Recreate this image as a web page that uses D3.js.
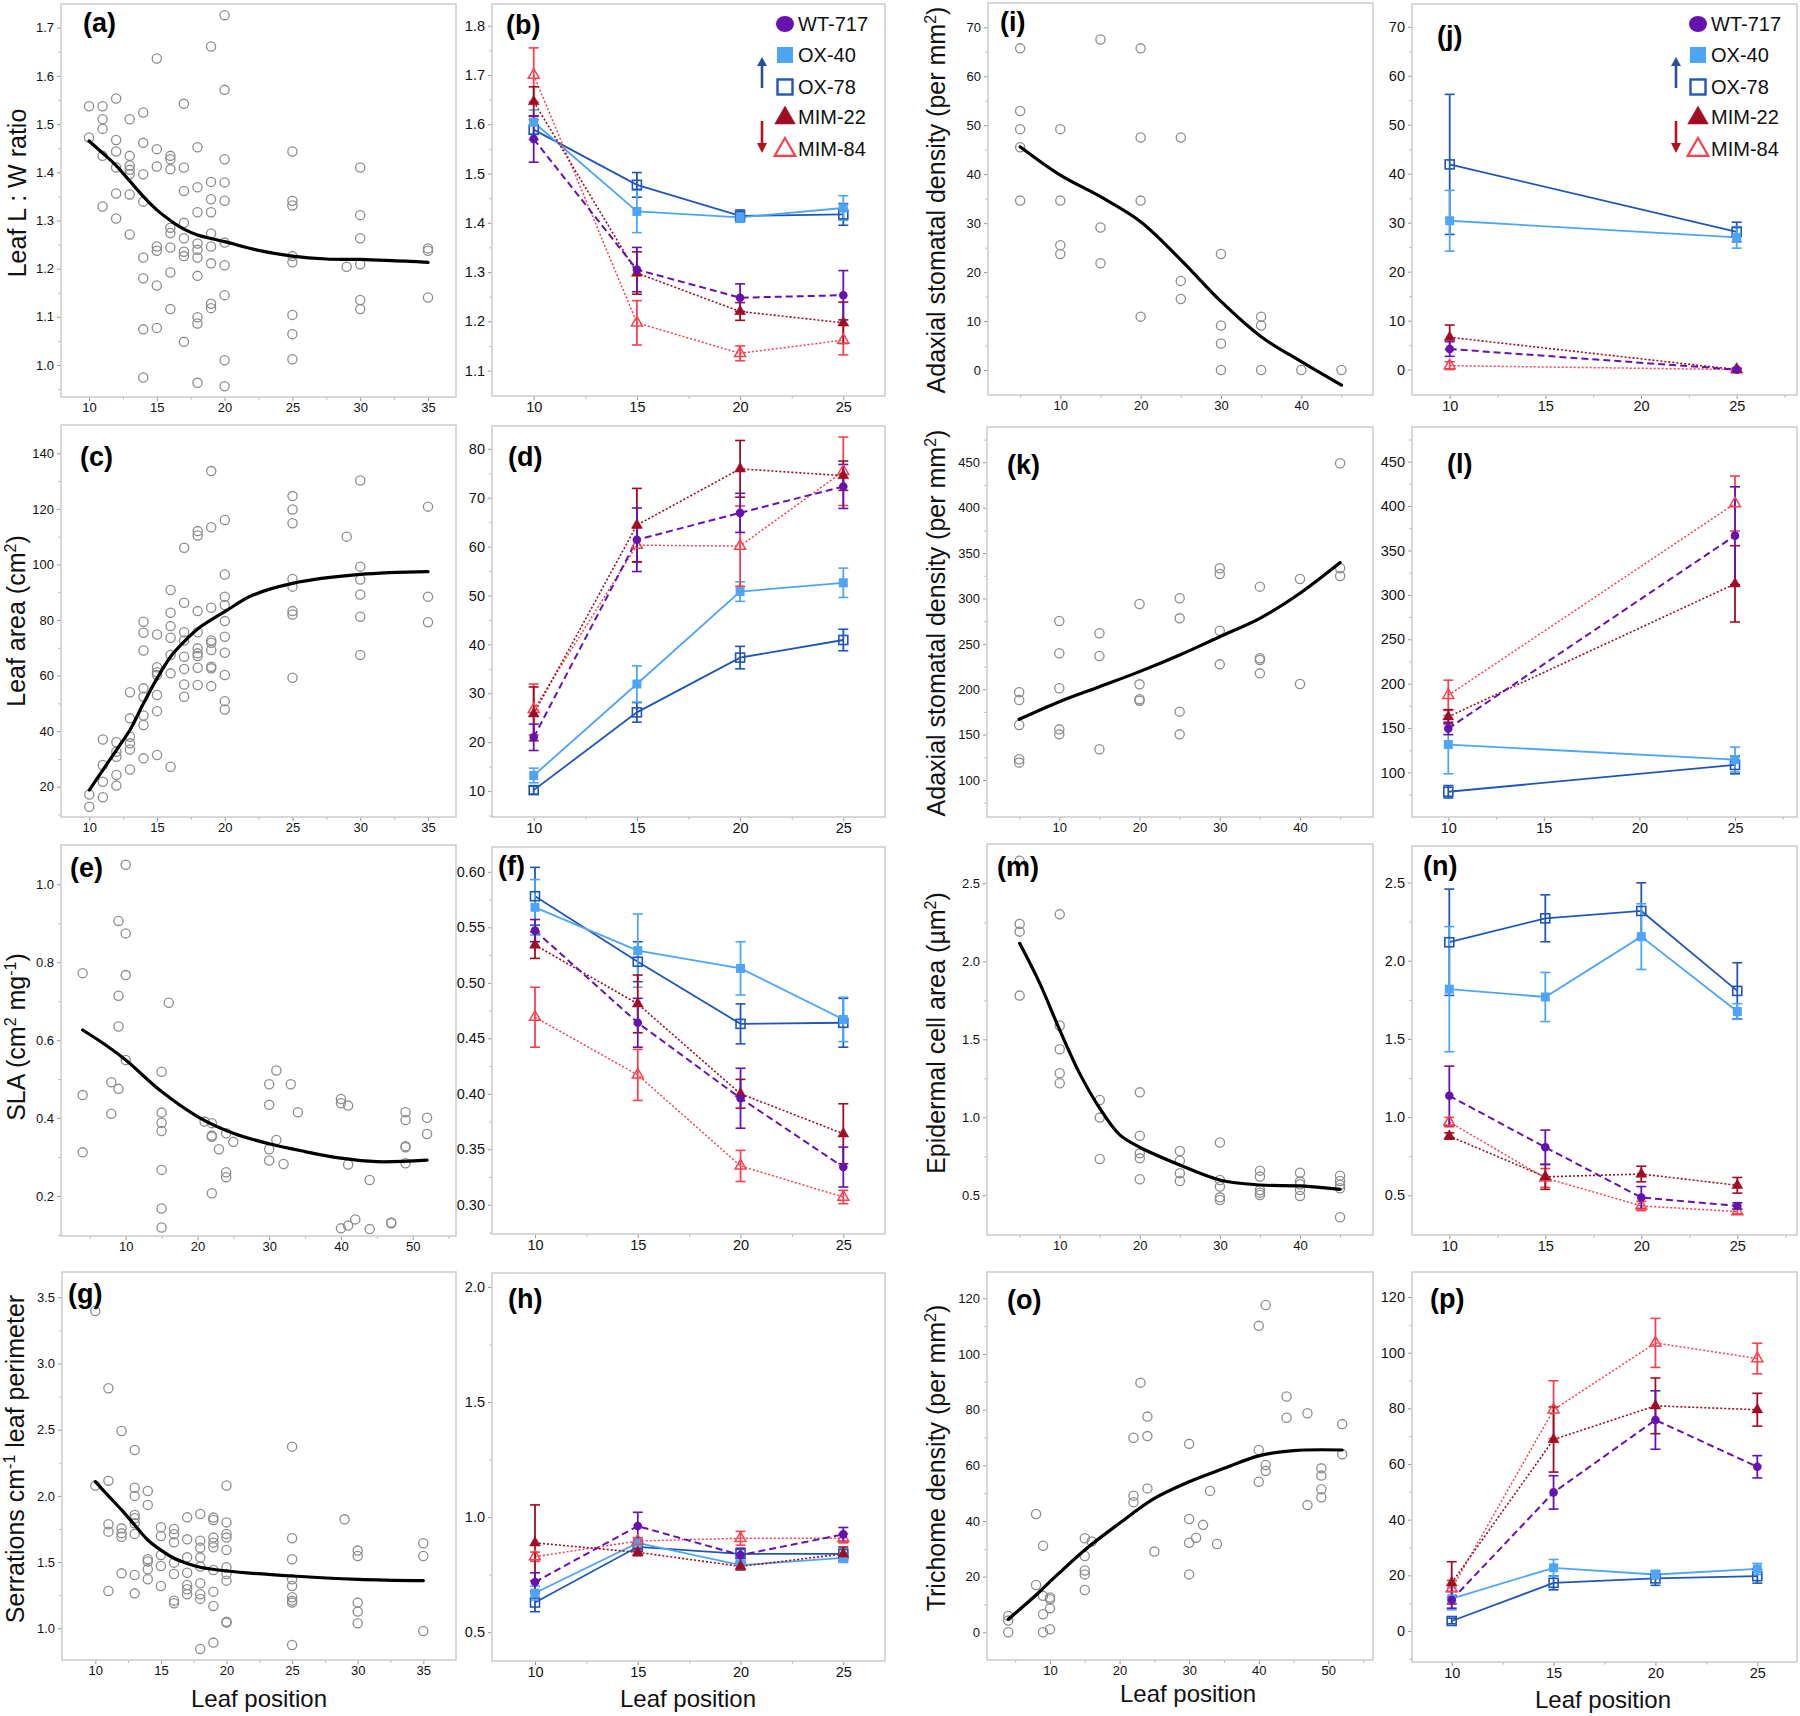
<!DOCTYPE html>
<html><head><meta charset="utf-8">
<script src="https://cdn.jsdelivr.net/npm/d3@7"></script>
<style>
body{margin:0;background:#fff}
svg{display:block}
text{font-family:"Liberation Sans",Arial,Helvetica,sans-serif}
</style>
</head><body>
<svg id="chart" width="1800" height="1716"></svg>
<script>
// ---------------- DATA ----------------
const genotypes = ["WT-717","OX-40","OX-78","MIM-22","MIM-84"];
const leafPos4 = [10,15,20,25];
const leafPos2 = [10,25];

// scatter panels: [leaf position, value]
const aPts = [[10,1.537],[10,1.472],[11,1.537],[11,1.51],[11,1.49],[11,1.434],[11,1.329],
[12,1.553],[12,1.467],[12,1.443],[12,1.41],[12,1.356],[12,1.304],
[13,1.51],[13,1.434],[13,1.414],[13,1.405],[13,1.396],[13,1.354],[13,1.271],
[14,1.524],[14,1.461],[14,1.396],[14,1.339],[14,1.223],[14,1.18],[14,1.074],[14,0.974],
[15,1.636],[15,1.448],[15,1.412],[15,1.246],[15,1.237],[15,1.165],[15,1.077],
[16,1.434],[16,1.427],[16,1.406],[16,1.285],[16,1.274],[16,1.244],[16,1.192],[16,1.116],
[17,1.542],[17,1.41],[17,1.361],[17,1.295],[17,1.263],[17,1.235],[17,1.226],[17,1.048],
[18,1.452],[18,1.369],[18,1.317],[18,1.252],[18,1.239],[18,1.223],[18,1.185],[18,1.099],[18,1.086],[18,0.963],
[19,1.661],[19,1.38],[19,1.344],[19,1.317],[19,1.273],[19,1.246],[19,1.211],[19,1.127],[19,1.118],
[20,1.726],[20,1.571],[20,1.427],[20,1.379],[20,1.341],[20,1.254],[20,1.207],[20,1.145],[20,1.01],[20,0.956],
[25,1.443],[25,1.341],[25,1.331],[25,1.226],[25,1.213],[25,1.104],[25,1.064],[25,1.012],
[29,1.204],[30,1.41],[30,1.311],[30,1.263],[30,1.209],[30,1.135],[30,1.116],
[35,1.242],[35,1.237],[35,1.14]];
const aFit = [[10,1.465],[11,1.44],[12,1.414],[13,1.382],[14,1.35],[15,1.322],[16,1.30],[17,1.282],[18,1.27],[20,1.256],[22.5,1.238],[25,1.226],[27.5,1.22],[30,1.219],[35,1.213]];

const cPts = [[10,17.2],[10,12.8],[11,37.0],[11,27.8],[11,21.8],[11,16.2],
[12,36.0],[12,32.6],[12,30.8],[12,24.2],[12,20.4],
[13,54.0],[13,44.6],[13,38.0],[13,35.6],[13,33.4],[13,26.2],
[14,79.4],[14,75.4],[14,69.0],[14,55.4],[14,52.4],[14,45.6],[14,42.2],[14,30.2],
[15,74.8],[15,63.0],[15,61.2],[15,60.2],[15,53.0],[15,47.2],[15,31.4],
[16,90.8],[16,82.6],[16,77.8],[16,73.6],[16,67.4],[16,60.8],[16,27.2],
[17,106.0],[17,86.2],[17,75.6],[17,72.6],[17,66.8],[17,62.4],[17,56.8],[17,52.4],
[18,112.0],[18,110.4],[18,83.2],[18,75.6],[18,69.8],[18,68.0],[18,67.0],[18,62.8],[18,56.6],
[19,133.6],[19,113.4],[19,84.4],[19,72.6],[19,71.8],[19,69.2],[19,63.2],[19,62.6],[19,56.2],
[20,116.0],[20,96.4],[20,88.4],[20,85.4],[20,79.6],[20,74.0],[20,68.2],[20,60.2],[20,50.8],[20,47.8],
[25,124.6],[25,119.8],[25,114.8],[25,94.8],[25,92.0],[25,83.2],[25,82.0],[25,59.2],
[29,110.0],[30,130.2],[30,99.2],[30,94.6],[30,89.2],[30,81.2],[30,67.4],
[35,120.8],[35,88.4],[35,79.2]];
const cFit = [[10,18.8],[11,26],[12,33.2],[13,40.4],[14,50],[15,59],[16,66.8],[17,72.2],[18,76.8],[20,83],[22,88.8],[25,93.2],[30,96.4],[35,97.4]];

const ePts = [[4,0.772],[4,0.459],[4,0.312],[8,0.492],[8,0.411],
[9,0.906],[9,0.714],[9,0.635],[9,0.475],[10,1.05],[10,0.874],[10,0.767],[10,0.549],
[15,0.519],[15,0.414],[15,0.388],[15,0.367],[15,0.267],[15,0.168],[15,0.119],[16,0.696],
[21,0.391],[22,0.387],[22,0.355],[22,0.352],[22,0.207],[23,0.32],
[24,0.361],[24,0.261],[24,0.248],[25,0.339],
[30,0.487],[30,0.434],[30,0.32],[30,0.291],[31,0.522],[31,0.344],[32,0.282],[33,0.487],[34,0.415],
[40,0.449],[40,0.438],[40,0.117],[41,0.432],[41,0.281],[41,0.124],[42,0.14],
[44,0.241],[44,0.115],[47,0.132],[47,0.13],
[49,0.415],[49,0.395],[49,0.328],[49,0.325],[49,0.284],[52,0.401],[52,0.359]];
const eFit = [[4,0.626],[7,0.59],[10,0.549],[15,0.468],[20,0.404],[25,0.361],[30,0.334],[35,0.314],[40,0.297],[45,0.288],[52,0.292]];

const gPts = [[10,3.397],[10,2.078],[11,2.813],[11,2.115],[11,1.786],[11,1.73],[11,1.282],
[12,2.49],[12,1.755],[12,1.717],[12,1.692],[12,1.415],
[13,2.347],[13,2.062],[13,2.0],[13,1.856],[13,1.831],[13,1.793],[13,1.713],[13,1.403],[13,1.264],
[14,2.037],[14,1.932],[14,1.521],[14,1.504],[14,1.446],[14,1.37],
[15,1.763],[15,1.697],[15,1.554],[15,1.471],[15,1.32],
[16,1.75],[16,1.71],[16,1.649],[16,1.496],[16,1.41],[16,1.209],[16,1.189],
[17,1.838],[17,1.672],[17,1.536],[17,1.42],[17,1.327],[17,1.295],[17,1.257],
[18,1.863],[18,1.662],[18,1.609],[18,1.534],[18,1.466],[18,1.34],[18,1.257],[18,1.222],[18,0.844],
[19,1.836],[19,1.818],[19,1.685],[19,1.647],[19,1.612],[19,1.44],[19,1.277],[19,1.169],[19,0.892],
[20,2.078],[20,1.8],[20,1.713],[20,1.685],[20,1.592],[20,1.461],[20,1.41],[20,1.36],[20,1.05],[20,1.043],
[25,2.372],[25,1.68],[25,1.521],[25,1.37],[25,1.32],[25,1.234],[25,1.209],[25,1.194],[25,0.874],
[29,1.823],[30,1.587],[30,1.546],[30,1.194],[30,1.126],[30,1.038],
[35,1.642],[35,1.546],[35,0.98]];
const gFit = [[10,2.108],[11,2.0],[12,1.894],[13,1.78],[14,1.667],[15,1.59],[16,1.529],[17,1.49],[18,1.461],[20,1.433],[25,1.395],[30,1.37],[35,1.36]];

const iPts = [[5,65.7],[5,52.9],[5,49.2],[5,45.5],[5,34.6],[10,49.2],[10,34.6],[10,25.5],[10,23.7],
[15,67.5],[15,29.1],[15,21.8],[20,65.7],[20,47.5],[20,34.6],[20,10.9],
[25,47.5],[25,18.2],[25,14.5],[30,23.7],[30,9.1],[30,5.4],[30,0],
[35,10.9],[35,9.1],[35,0],[40,0],[45,0]];
const iFit = [[5,45.6],[10,39.8],[15,35.4],[20,30.3],[25,22.5],[30,14.0],[35,6.8],[40,1.7],[45,-3.1]];

const kPts = [[5,196.6],[5,188.2],[5,160.6],[5,122.8],[5,119.1],
[10,275.2],[10,239.6],[10,201.0],[10,155.8],[10,150.3],[15,261.6],[15,236.6],[15,133.8],
[20,293.9],[20,205.4],[20,188.9],[20,187.4],[25,300.2],[25,278.1],[25,175.3],[25,150.3],
[30,333.2],[30,327.0],[30,264.5],[30,227.4],[35,313.0],[35,234.1],[35,232.2],[35,217.5],
[40,321.5],[40,205.8],[45,448.9],[45,333.2],[45,324.8]];
const kFit = [[5,166.9],[10,186.3],[15,202.8],[20,219.4],[25,237.7],[30,257.9],[35,278.1],[40,305.7],[45,339.5]];

const mPts = [[5,2.645],[5,2.239],[5,2.19],[5,1.78],[10,2.301],[10,1.588],[10,1.436],[10,1.282],[10,1.218],
[15,1.111],[15,0.998],[15,0.733],[20,1.16],[20,0.882],[20,0.769],[20,0.737],[20,0.603],
[25,0.784],[25,0.722],[25,0.641],[25,0.592],[30,0.838],[30,0.598],[30,0.556],[30,0.487],[30,0.47],
[35,0.658],[35,0.62],[35,0.534],[35,0.517],[35,0.502],[40,0.645],[40,0.588],[40,0.571],[40,0.534],[40,0.496],
[45,0.626],[45,0.592],[45,0.566],[45,0.545],[45,0.359]];
const mFit = [[5,2.115],[7.5,1.86],[10,1.56],[12.5,1.28],[15,1.058],[17.5,0.887],[20,0.808],[25,0.694],[30,0.598],[35,0.566],[40,0.56],[45,0.538]];

const oPts = [[4,5.9],[4,4.2],[4,0],[8,42.5],[8,17.0],[9,31.1],[9,13.1],[9,6.5],[9,0],
[10,12.5],[10,11.9],[10,8.6],[10,1.1],[15,33.8],[15,27.4],[15,22.2],[15,20.8],[15,15.2],[16,32.6],
[22,69.9],[22,49.1],[22,46.7],[23,89.7],[24,77.5],[24,70.5],[24,51.7],[25,29.0],
[30,67.7],[30,40.7],[30,32.2],[30,20.8],[31,34.0],[32,38.6],[33,50.8],[34,31.7],
[40,110.1],[40,65.5],[40,54.1],[41,117.6],[41,60.1],[41,58.0],[44,84.7],[44,77.1],
[47,78.7],[47,45.7],[49,58.9],[49,56.3],[49,51.4],[49,48.5],[52,74.8],[52,64.0]];
const oFit = [[4,4.7],[8,13.4],[10,18.2],[15,29.6],[20,39.2],[25,48.1],[30,54.1],[35,58.9],[40,63.4],[45,65.3],[52,65.5]];

// line panels: rows in genotype order (WT-717, OX-40, OX-78, MIM-22, MIM-84)
const bMean = [[1.57,1.305,1.248,1.253],[1.604,1.423,1.411,1.43],[1.589,1.477,1.414,1.417],[1.646,1.298,1.22,1.197],[1.70,1.197,1.135,1.162]];
const bErr  = [[0.047,0.045,0.028,0.05],[0.025,0.043,0.01,0.025],[0.02,0.025,0.012,0.022],[0.03,0.043,0.018,0.042],[0.055,0.045,0.015,0.03]];
const dMean = [[21.0,61.4,66.9,72.3],[13.2,31.9,50.8,52.6],[10.2,26.1,37.3,40.9],[25.8,64.4,75.9,74.5],[26.7,60.3,60.1,75.4]];
const dErr  = [[2.7,6.5,4,4.5],[1.5,3.7,2,3],[0.8,2,2.3,2.2],[5.5,7.5,5.8,3],[5.2,3.5,8.2,7]];
const fMean = [[0.547,0.464,0.396,0.334],[0.568,0.529,0.513,0.467],[0.578,0.519,0.463,0.464],[0.534,0.481,0.40,0.364],[0.469,0.417,0.335,0.307]];
const fErr  = [[0.01,0.022,0.027,0.018],[0.025,0.033,0.024,0.02],[0.026,0.018,0.018,0.022],[0.012,0.026,0.013,0.027],[0.027,0.023,0.014,0.006]];
const hMean = [[0.718,0.961,0.835,0.925],[0.67,0.888,0.791,0.823],[0.629,0.871,0.84,0.84],[0.888,0.847,0.786,0.84],[0.828,0.896,0.908,0.908]];
const hErr  = [[0.04,0.06,0.03,0.03],[0.03,0.02,0.02,0.02],[0.04,0.02,0.02,0.02],[0.165,0.015,0.015,0.03],[0.02,0.015,0.03,0.02]];
const jMean = [[4.2,0],[30.4,27.0],[41.9,28.1],[6.6,0],[0.8,0]];
const jErr  = [[1.5,0.2],[6.2,2.2],[14.3,2],[2.5,0.3],[0.8,0.2]];
const lMean = [[149.5,366.7],[131.4,114.5],[78.2,108.4],[162.7,312.4],[186.9,402.9]];
const lErr  = [[7,55],[33,14],[7,10],[8,43],[17,31]];
const nMean = [[1.136,0.807,0.486,0.432],[1.818,1.768,2.154,1.675],[2.118,2.271,2.318,1.807],[0.879,0.618,0.636,0.564],[0.968,0.611,0.432,0.396]];
const nErr  = [[0.19,0.11,0.07,0.02],[0.4,0.157,0.21,0.05],[0.34,0.15,0.18,0.18],[0.02,0.08,0.05,0.05],[0.03,0.06,0.03,0.015]];
const pMean = [[11.2,49.8,75.8,59.0],[11.6,22.7,20.3,22.3],[3.6,17.3,18.9,19.7],[17.3,68.8,80.9,79.5],[15.2,79.5,103.5,97.9]];
const pErr  = [[3,6,10.5,4],[4,3,1.5,2],[1,2.5,2.5,2.5],[7.6,11.7,10,5.9],[3,10.4,8.8,5.5]];

// tick values
const xTicks35 = [10,15,20,25,30,35];
const xTicks50 = [10,20,30,40,50];
const xTicks40 = [10,20,30,40];
const xTicksLine = [10,15,20,25];
const aYTicks = [1.0,1.1,1.2,1.3,1.4,1.5,1.6,1.7];
const cYTicks = [20,40,60,80,100,120,140];
const eYTicks = [0.2,0.4,0.6,0.8,1.0];
const gYTicks = [1.0,1.5,2.0,2.5,3.0,3.5];
const iYTicks = [0,10,20,30,40,50,60,70];
const kYTicks = [100,150,200,250,300,350,400,450];
const mYTicks = [0.5,1.0,1.5,2.0,2.5];
const oYTicks = [0,20,40,60,80,100,120];
const bYTicks = [1.1,1.2,1.3,1.4,1.5,1.6,1.7,1.8];
const dYTicks = [10,20,30,40,50,60,70,80];
const fYTicks = [0.30,0.35,0.40,0.45,0.50,0.55,0.60];
const hYTicks = [0.5,1.0,1.5,2.0];
const jYTicks = [0,10,20,30,40,50,60,70];
const lYTicks = [100,150,200,250,300,350,400,450];
const nYTicks = [0.5,1.0,1.5,2.0,2.5];
const pYTicks = [0,20,40,60,80,100,120];

// ---------------- STYLE / LAYOUT ----------------
const gStyle = [
  {color:"#6612ae", dash:"7,4", width:2.0, sym:"circle", fill:true},
  {color:"#4fa5f5", dash:null,  width:1.8, sym:"square", fill:true},
  {color:"#1f56b7", dash:null,  width:1.8, sym:"square", fill:false},
  {color:"#a10c22", dash:"2,2", width:1.6, sym:"triangle", fill:true},
  {color:"#f5424f", dash:"2,2", width:1.5, sym:"triangle", fill:false}
];
const drawOrder = [2,1,4,3,0];

const panels = [
 {id:"a",pts:aPts,fit:aFit,frame:[61,4,456,397],xa:[10,35,89,428],ya:[1.0,1.7,365,27.7],xt:xTicks35,yt:aYTicks,fmt:".1f",lab:[22,28]},
 {id:"c",pts:cPts,fit:cFit,frame:[61,425,456,817],xa:[10,35,89.3,428],ya:[20,140,786.7,453.3],xt:xTicks35,yt:cYTicks,fmt:"d",lab:[19,41]},
 {id:"e",pts:ePts,fit:eFit,frame:[61,845,456,1236],xa:[10,50,125.7,412.7],ya:[0.2,1.0,1196,884.3],xt:xTicks50,yt:eYTicks,fmt:".1f",lab:[9,32]},
 {id:"g",pts:gPts,fit:gFit,frame:[62,1272,456,1660],xa:[10,35,95.3,423.3],ya:[1.0,3.5,1628.3,1297.3],xt:xTicks35,yt:gYTicks,fmt:".1f",lab:[6,31]},
 {id:"i",pts:iPts,fit:iFit,frame:[988,3,1373,395],xa:[10,40,1060.3,1301.3],ya:[0,70,370,27.3],xt:xTicks40,yt:iYTicks,fmt:"d",lab:[12,28]},
 {id:"k",pts:kPts,fit:kFit,frame:[987,427,1373,817],xa:[10,40,1059.3,1300],ya:[100,450,780,462.3],xt:xTicks40,yt:kYTicks,fmt:"d",lab:[20,47]},
 {id:"m",pts:mPts,fit:mFit,frame:[987,844,1373,1235],xa:[10,40,1059.7,1300],ya:[0.5,2.5,1195.3,883.3],xt:xTicks40,yt:mYTicks,fmt:".1f",lab:[10,32]},
 {id:"o",pts:oPts,fit:oFit,frame:[987,1272,1373,1660],xa:[10,50,1050,1328.3],ya:[0,120,1632.3,1298.3],xt:xTicks50,yt:oYTicks,fmt:"d",lab:[20,37]},
 {id:"b",mean:bMean,err:bErr,xs:leafPos4,frame:[492,4,885,396],xa:[10,25,533.7,843.3],ya:[1.1,1.8,370.6,25.7],xt:xTicksLine,yt:bYTicks,fmt:".1f",lab:[14,30]},
 {id:"d",mean:dMean,err:dErr,xs:leafPos4,frame:[492,426,885,817],xa:[10,25,533.7,843.3],ya:[10,80,791.1,448.8],xt:xTicksLine,yt:dYTicks,fmt:"d",lab:[16,40]},
 {id:"f",mean:fMean,err:fErr,xs:leafPos4,frame:[492,847,885,1234],xa:[10,25,535,843.3],ya:[0.30,0.60,1204.8,871.8],xt:xTicksLine,yt:fYTicks,fmt:".2f",lab:[6,28]},
 {id:"h",mean:hMean,err:hErr,xs:leafPos4,frame:[492,1273,885,1661],xa:[10,25,535,843.3],ya:[0.5,2.0,1632.2,1286.9],xt:xTicksLine,yt:hYTicks,fmt:".1f",lab:[16,35]},
 {id:"j",mean:jMean,err:jErr,xs:leafPos2,frame:[1412,4,1797,395],xa:[10,25,1449.7,1736.7],ya:[0,70,369.6,26.8],xt:xTicksLine,yt:jYTicks,fmt:"d",lab:[25,41]},
 {id:"l",mean:lMean,err:lErr,xs:leafPos2,frame:[1412,427,1797,817],xa:[10,25,1448.3,1735],ya:[100,450,772.4,461.7],xt:xTicksLine,yt:lYTicks,fmt:"d",lab:[35,46]},
 {id:"n",mean:nMean,err:nErr,xs:leafPos4,frame:[1412,846,1797,1235],xa:[10,25,1449.3,1737.3],ya:[0.5,2.5,1195.3,882.5],xt:xTicksLine,yt:nYTicks,fmt:".1f",lab:[11,29]},
 {id:"p",mean:pMean,err:pErr,xs:leafPos4,frame:[1412,1272,1797,1662],xa:[10,25,1451.7,1757.3],ya:[0,120,1631,1297],xt:xTicksLine,yt:pYTicks,fmt:"d",lab:[18,36]}
];

const svg = d3.select("#chart");
svg.append("rect").attr("width",1800).attr("height",1716).attr("fill","#fff");
const defs = svg.append("defs");

function minorTicks(ticks, scale, lo, hi){
  const step = (ticks[1]-ticks[0])/2;
  const out = [];
  for(let v = ticks[0]-step*4; v <= ticks[ticks.length-1]+step*4; v += step){
    const vv = +v.toFixed(6);
    if(ticks.some(t => Math.abs(t-vv) < 1e-9)) continue;
    const px = scale(vv);
    if(px > lo+1 && px < hi-1) out.push(vv);
  }
  return out;
}

function drawPanel(p){
  const [x0,y0,x1,y1] = p.frame;
  const x = d3.scaleLinear().domain([p.xa[0],p.xa[1]]).range([p.xa[2],p.xa[3]]);
  const y = d3.scaleLinear().domain([p.ya[0],p.ya[1]]).range([p.ya[2],p.ya[3]]);
  const g = svg.append("g").attr("class","panel-"+p.id);
  const tickFont = p.pts ? 13 : 14.5;

  defs.append("clipPath").attr("id","clip-"+p.id).append("rect")
    .attr("x",x0).attr("y",y0).attr("width",x1-x0).attr("height",y1-y0);

  const xAx = g.append("g").attr("transform",`translate(0,${y1})`)
    .call(d3.axisBottom(x).tickValues(p.xt).tickSize(4).tickPadding(2).tickFormat(d3.format("d")));
  const yAx = g.append("g").attr("transform",`translate(${x0},0)`)
    .call(d3.axisLeft(y).tickValues(p.yt).tickSize(4).tickPadding(3).tickFormat(d3.format(p.fmt)));
  [xAx,yAx].forEach(ax=>{
    ax.select(".domain").remove();
    ax.selectAll("line").attr("stroke","#999");
    ax.selectAll("text").attr("font-size",tickFont).attr("fill","#111");
  });
  g.append("g").attr("transform",`translate(0,${y1})`)
    .call(d3.axisBottom(x).tickValues(minorTicks(p.xt,x,x0,x1)).tickSize(2.5).tickFormat(""))
    .call(a=>{a.select(".domain").remove();a.selectAll("line").attr("stroke","#aaa");});
  g.append("g").attr("transform",`translate(${x0},0)`)
    .call(d3.axisLeft(y).tickValues(minorTicks(p.yt,y,y0,y1)).tickSize(2.5).tickFormat(""))
    .call(a=>{a.select(".domain").remove();a.selectAll("line").attr("stroke","#aaa");});

  g.append("rect").attr("x",x0).attr("y",y0).attr("width",x1-x0).attr("height",y1-y0)
    .attr("fill","none").attr("stroke","#cfcfcf").attr("stroke-width",1.6);

  const plot = g.append("g").attr("clip-path",`url(#clip-${p.id})`);

  if(p.pts){
    plot.selectAll("circle.pt").data(p.pts).join("circle").attr("class","pt")
      .attr("cx",d=>x(d[0])).attr("cy",d=>y(d[1])).attr("r",4.6)
      .attr("fill","none").attr("stroke","#8c8c8c").attr("stroke-width",1.3);
    plot.append("path").datum(p.fit)
      .attr("d",d3.line().x(d=>x(d[0])).y(d=>y(d[1])).curve(d3.curveCatmullRom.alpha(0.5)))
      .attr("fill","none").attr("stroke","#000").attr("stroke-width",3.2).attr("stroke-linecap","round");
  } else {
    const line = d3.line().x((d,i)=>x(p.xs[i])).y(d=>y(d));
    drawOrder.forEach(gi=>{
      const st = gStyle[gi];
      plot.append("path").datum(p.mean[gi]).attr("d",line).attr("fill","none")
        .attr("stroke",st.color).attr("stroke-width",st.width)
        .attr("stroke-dasharray",st.dash);
    });
    drawOrder.forEach(gi=>{
      const st = gStyle[gi];
      const gg = plot.append("g");
      p.mean[gi].forEach((m,i)=>{
        const e = p.err[gi][i], cx = x(p.xs[i]);
        gg.append("line").attr("x1",cx).attr("x2",cx).attr("y1",y(m-e)).attr("y2",y(m+e))
          .attr("stroke",st.color).attr("stroke-width",1.8);
        [m-e,m+e].forEach(v=>gg.append("line").attr("x1",cx-5).attr("x2",cx+5).attr("y1",y(v)).attr("y2",y(v))
          .attr("stroke",st.color).attr("stroke-width",1.6));
      });
    });
    drawOrder.forEach(gi=>{
      const st = gStyle[gi];
      const gg = plot.append("g");
      p.mean[gi].forEach((m,i)=>{
        const cx = x(p.xs[i]), cy = y(m);
        if(st.sym==="circle"){
          gg.append("circle").attr("cx",cx).attr("cy",cy).attr("r",4.3).attr("fill",st.color);
        } else if(st.sym==="square"){
          if(st.fill) gg.append("rect").attr("x",cx-4.5).attr("y",cy-4.5).attr("width",9).attr("height",9).attr("fill",st.color);
          else gg.append("rect").attr("x",cx-4.5).attr("y",cy-4.5).attr("width",9).attr("height",9).attr("fill","none").attr("stroke",st.color).attr("stroke-width",1.6);
        } else {
          const path = d3.symbol(d3.symbolTriangle, 52)();
          gg.append("path").attr("d",path).attr("transform",`translate(${cx},${cy})`)
            .attr("fill",st.fill?st.color:"none").attr("stroke",st.color).attr("stroke-width",st.fill?0.5:1.5);
        }
      });
    });
  }

  g.append("text").attr("x",x0+p.lab[0]).attr("y",y0+p.lab[1])
    .attr("font-size",27).attr("font-weight","bold").attr("fill","#000").text(`(${p.id})`);
}

panels.forEach(drawPanel);

// ---------------- LEGENDS ----------------
function drawLegend(cx, tx, arrowX){
  const ys = [24,55,87,117,149];
  genotypes.forEach((name,i)=>{
    const st = gStyle[i], yy = ys[i];
    if(st.sym==="circle"){
      svg.append("ellipse").attr("cx",cx).attr("cy",yy).attr("rx",9).attr("ry",8).attr("fill",st.color);
    } else if(st.sym==="square"){
      if(st.fill) svg.append("rect").attr("x",cx-8).attr("y",yy-8).attr("width",16).attr("height",16).attr("fill",st.color);
      else svg.append("rect").attr("x",cx-7.5).attr("y",yy-7.5).attr("width",15).attr("height",15).attr("fill","none").attr("stroke",st.color).attr("stroke-width",2.4);
    } else {
      svg.append("path").attr("d",d3.symbol(d3.symbolTriangle,185)()).attr("transform",`translate(${cx},${yy+1})`)
        .attr("fill",st.fill?st.color:"none").attr("stroke",st.color).attr("stroke-width",st.fill?0.5:2.2);
    }
    svg.append("text").attr("x",tx).attr("y",yy).attr("dy","0.36em").attr("font-size",20).attr("fill","#111").text(name);
  });
  svg.append("line").attr("x1",arrowX).attr("x2",arrowX).attr("y1",88).attr("y2",64).attr("stroke","#2c4f9a").attr("stroke-width",2.6);
  svg.append("path").attr("d",`M${arrowX-5},${66}L${arrowX},${57}L${arrowX+5},${66}Z`).attr("fill","#2c4f9a");
  svg.append("line").attr("x1",arrowX).attr("x2",arrowX).attr("y1",121).attr("y2",145).attr("stroke","#b3121e").attr("stroke-width",2.6);
  svg.append("path").attr("d",`M${arrowX-5},${143}L${arrowX},${153}L${arrowX+5},${143}Z`).attr("fill","#b3121e");
}
drawLegend(785, 798, 762);
drawLegend(1698, 1711, 1676);

// ---------------- AXIS TITLES ----------------
function vTitle(x, y, parts){
  const t = svg.append("text").attr("transform",`translate(${x},${y}) rotate(-90)`)
    .attr("text-anchor","middle").attr("font-size",25).attr("fill","#111");
  let up = false;
  parts.forEach(([s,sup])=>{
    const ts = t.append("tspan").text(s);
    if(sup){ ts.attr("font-size",16); if(!up){ts.attr("dy",-9); up=true;} }
    else if(up){ ts.attr("dy",9); up=false; }
  });
}
vTitle(26, 193, [["Leaf L : W ratio",0]]);
vTitle(25, 621, [["Leaf area (cm",0],["2",1],[")",0]]);
vTitle(25, 1037, [["SLA (cm",0],["2",1],[" mg",0],["-1",1],[")",0]]);
vTitle(24, 1459, [["Serrations cm",0],["-1",1],[" leaf perimeter",0]]);
vTitle(945, 200, [["Adaxial stomatal density (per mm",0],["2",1],[")",0]]);
vTitle(945, 623, [["Adaxial stomatal density (per mm",0],["2",1],[")",0]]);
vTitle(945, 1033, [["Epidermal cell area (\u00b5m",0],["2",1],[")",0]]);
vTitle(945, 1458, [["Trichome density (per mm",0],["2",1],[")",0]]);

function hTitle(x, y, s){
  svg.append("text").attr("x",x).attr("y",y).attr("text-anchor","middle").attr("font-size",24).attr("fill","#111").text(s);
}
hTitle(259, 1707, "Leaf position");
hTitle(688, 1707, "Leaf position");
hTitle(1188, 1702, "Leaf position");
hTitle(1603, 1708, "Leaf position");
</script>
</body></html>
